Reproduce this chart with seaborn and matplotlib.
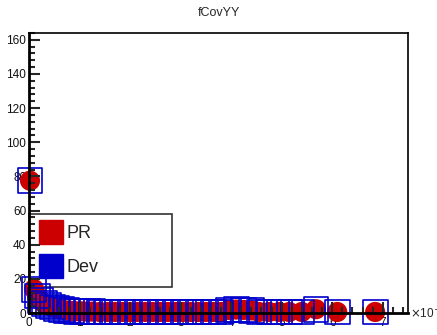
import numpy as np
import pandas as pd
import seaborn as sns
import matplotlib.pyplot as plt
from matplotlib.ticker import MultipleLocator
from matplotlib.lines import Line2D

# values in units of 1e-6 on x
pr_x = [0.02, 0.10, 0.16, 0.22, 0.30, 0.38, 0.46, 0.55, 0.64, 0.74, 0.84, 0.94,
        1.05, 1.15, 1.25, 1.40, 1.55, 1.70, 1.85, 2.00, 2.15, 2.30, 2.45, 2.60,
        2.75, 2.90, 3.05, 3.20, 3.35, 3.50, 3.65, 3.80, 3.95, 4.10, 4.25, 4.40,
        4.55, 4.75, 4.95, 5.15, 5.40, 5.68, 6.10, 6.85]
pr_y = [77.5, 14.0, 10.0, 7.5, 5.5, 4.5, 3.5, 2.5, 2.0, 1.5, 1.2, 1.0,
        1.0, 0.8, 0.8, 0.6, 0.6, 0.6, 0.6, 0.6, 0.6, 0.6, 0.6, 0.6,
        0.6, 0.6, 0.6, 0.6, 0.6, 0.6, 0.6, 0.6, 1.8, 2.0, 1.8, 1.5,
        0.6, 0.6, 0.6, 0.6, 0.6, 2.2, 0.6, 0.6]
dev_x = pr_x
dev_y = pr_y

pr = pd.DataFrame({"x": pr_x, "y": pr_y})
dev = pd.DataFrame({"x": dev_x, "y": dev_y})

sns.set_style("white")
plt.rcParams['font.family'] = ['Liberation Sans', 'DejaVu Sans']

fig = plt.figure(figsize=(4.37, 3.35), dpi=100)
pos = [29 / 437, 22 / 335, 379 / 437, 280 / 335]
ax = fig.add_axes(pos)

sns.scatterplot(data=pr, x="x", y="y", ax=ax, marker="o", s=210,
                color="#cc0000", edgecolor="none", linewidth=0, zorder=3, clip_on=False)
sns.scatterplot(data=dev, x="x", y="y", ax=ax, marker="s", s=320,
                color="#0000cc", linewidth=1.2, zorder=4, clip_on=False)
ax.collections[-1].set_facecolor("none")
ax.collections[-1].set_edgecolor("#0000cc")

ax.set_xlim(0, 7.5)
ax.set_ylim(0, 164)
ax.set_xlabel("")
ax.set_ylabel("")
ax.xaxis.set_major_locator(MultipleLocator(1))
ax.yaxis.set_major_locator(MultipleLocator(20))
ax.tick_params(axis="both", length=0, labelsize=8.5, colors="#111111", pad=2,
               bottom=True, left=True)
ax.tick_params(axis="x", pad=3)
for s in ax.spines.values():
    s.set_visible(False)

handles = [Line2D([], [], marker="s", ls="", color="#cc0000", markersize=17),
           Line2D([], [], marker="s", ls="", color="#0000cc", markersize=17)]
leg = ax.legend(handles, ["PR", "Dev"], loc="lower left",
                bbox_to_anchor=(0, 26 / 280, 143 / 379, 74 / 280),
                mode="expand", fontsize=13, frameon=True, fancybox=False,
                edgecolor="black", borderpad=0.6, handletextpad=0.3,
                labelspacing=0.95, handlelength=1.2, borderaxespad=0)
leg.get_frame().set_linewidth(1.2)
leg.set_zorder(2.5)

# overlay axes for frame and ticks above markers
ax2 = fig.add_axes(pos, sharex=ax, sharey=ax)
ax2.patch.set_visible(False)
ax2.xaxis.set_major_locator(MultipleLocator(1))
ax2.xaxis.set_minor_locator(MultipleLocator(0.2))
ax2.yaxis.set_major_locator(MultipleLocator(20))
ax2.yaxis.set_minor_locator(MultipleLocator(4))
ax2.tick_params(which="major", direction="in", length=8, width=1.5,
                labelbottom=False, labelleft=False)
ax2.tick_params(which="minor", direction="in", length=4, width=1.5)
ax2.tick_params(which="both", bottom=True, left=True, top=False, right=False)
for name, s in ax2.spines.items():
    s.set_color("black")
    s.set_linewidth(2 if name in ("left", "bottom") else 1.2)

fig.text(0.5, 0.962, "fCovYY", ha="center", va="center", fontsize=9)
ax.text(1.005, 0.0, r"$\times$10$^{-6}$", transform=ax.transAxes,
        ha="left", va="center", fontsize=8.5)

fig.savefig("out.png", dpi=100)
